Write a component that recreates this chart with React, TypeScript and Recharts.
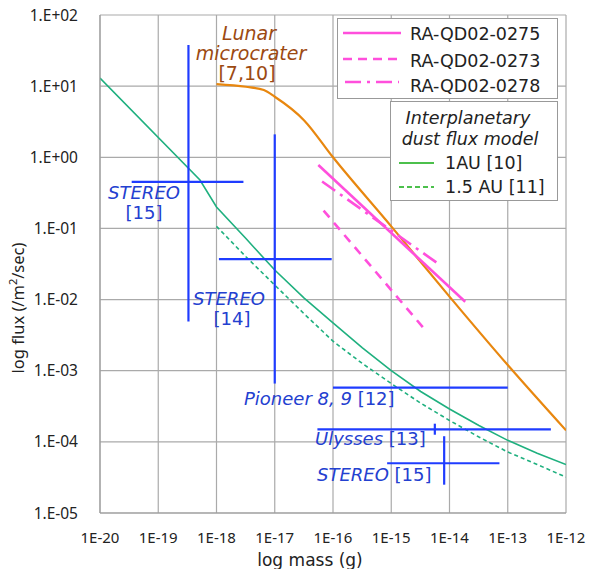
import { ComposedChart, Line, XAxis, YAxis, CartesianGrid } from "recharts";

// mass (g) ticks and flux ticks
const massTicks = [1e-20, 1e-19, 1e-18, 1e-17, 1e-16, 1e-15, 1e-14, 1e-13, 1e-12];
const massTickLabels = ["1E-20", "1E-19", "1E-18", "1E-17", "1E-16", "1E-15", "1E-14", "1E-13", "1E-12"];
const fluxTicks = [1e-5, 1e-4, 1e-3, 1e-2, 1e-1, 1, 10, 100];
const fluxTickLabels = ["1.E-05", "1.E-04", "1.E-03", "1.E-02", "1.E-01", "1.E+00", "1.E+01", "1.E+02"];

// interplanetary dust flux model, 1 AU [10]
const au1 = [
  { x: 1e-20, y: 13 },
  { x: 5.2e-19, y: 0.48 },
  { x: 1e-18, y: 0.2 },
  { x: 3.2e-18, y: 0.072 },
  { x: 1e-17, y: 0.026 },
  { x: 3.2e-17, y: 0.0105 },
  { x: 1e-16, y: 0.0047 },
  { x: 3.2e-16, y: 0.0021 },
  { x: 1e-15, y: 0.001 },
  { x: 3.2e-15, y: 5.1e-4 },
  { x: 1e-14, y: 2.9e-4 },
  { x: 3.2e-14, y: 1.7e-4 },
  { x: 1e-13, y: 1.05e-4 },
  { x: 3.2e-13, y: 6.9e-5 },
  { x: 1e-12, y: 4.8e-5 },
];

// 1.5 AU [11]
const au15 = [
  { x: 1e-18, y: 0.107 },
  { x: 3.2e-18, y: 0.04 },
  { x: 1e-17, y: 0.016 },
  { x: 3.2e-17, y: 0.0063 },
  { x: 1e-16, y: 0.0026 },
  { x: 3.2e-16, y: 0.00126 },
  { x: 1e-15, y: 6.6e-4 },
  { x: 3.2e-15, y: 3.5e-4 },
  { x: 1e-14, y: 2.0e-4 },
  { x: 3.2e-14, y: 1.17e-4 },
  { x: 1e-13, y: 7.2e-5 },
  { x: 3.2e-13, y: 4.8e-5 },
  { x: 1e-12, y: 3.2e-5 },
];

// lunar microcrater [7,10]
const lunar = [
  { x: 1e-18, y: 10.7 },
  { x: 3.2e-18, y: 9.8 },
  { x: 6.5e-18, y: 8.8 },
  { x: 1e-17, y: 7.1 },
  { x: 3.2e-17, y: 3.3 },
  { x: 1e-16, y: 1.0 },
  { x: 1e-15, y: 0.107 },
  { x: 1e-14, y: 0.011 },
  { x: 1e-13, y: 0.0012 },
  { x: 1e-12, y: 1.45e-4 },
];

// measured samples
const qd0275 = [
  { x: 5.6e-17, y: 0.78 },
  { x: 1.86e-14, y: 0.0093 },
];
const qd0273 = [
  { x: 6.9e-17, y: 0.178 },
  { x: 4.1e-15, y: 0.0035 },
];
const qd0278 = [
  { x: 6.5e-17, y: 0.457 },
  { x: 6.5e-15, y: 0.0316 },
];

// spacecraft ranges, each a segment [start, end]
const stereo15aH = [{ x: 3.5e-20, y: 0.45 }, { x: 2.9e-18, y: 0.45 }];
const stereo15aV = [{ x: 3.3e-19, y: 38 }, { x: 3.3e-19, y: 0.0049 }];
const stereo14H = [{ x: 1.1e-18, y: 0.037 }, { x: 9.5e-17, y: 0.037 }];
const stereo14V = [{ x: 1e-17, y: 2.1 }, { x: 1e-17, y: 6.6e-4 }];
const pioneerH = [{ x: 1e-16, y: 5.8e-4 }, { x: 1e-13, y: 5.8e-4 }];
const ulyssesH = [{ x: 5.4e-17, y: 1.5e-4 }, { x: 5.5e-13, y: 1.5e-4 }];
const ulyssesV = [{ x: 5.6e-15, y: 1.8e-4 }, { x: 5.6e-15, y: 1.26e-4 }];
const stereo15bH = [{ x: 8.5e-16, y: 5.0e-5 }, { x: 7.2e-14, y: 5.0e-5 }];
const stereo15bV = [{ x: 8.1e-15, y: 1.2e-4 }, { x: 8.1e-15, y: 2.5e-5 }];

const blueSegments = [stereo15aH, stereo15aV, stereo14H, stereo14V, pioneerH, ulyssesH, ulyssesV, stereo15bH, stereo15bV];

const GREEN = "#1fb07f";
const ORANGE = "#e8870f";
const PINK = "#ff4fdc";
const BLUE = "#1f3cff";
const LABEL_BLUE = "#2340d0";
const FONT = "'Noto Sans', 'DejaVu Sans', sans-serif";
const WIDE = "'DejaVu Sans', sans-serif";

export default function App() {
  return (
    <div style={{ position: "absolute", left: 0, top: 0, width: 589, height: 569, background: "#fff", fontFamily: FONT }}>
      <ComposedChart width={589} height={569} margin={{ top: 15, right: 23, bottom: 0, left: 0 }}>
        <CartesianGrid stroke="#aaaaaa" strokeWidth={1.2} />
        <XAxis
          type="number"
          dataKey="x"
          scale="log"
          domain={[1e-20, 1e-12]}
          ticks={massTicks}
          allowDataOverflow
          height={56}
          axisLine={{ stroke: "#999" }}
          tickLine={false}
          tickMargin={13}
          tick={{ fill: "#222", fontSize: 15, fontFamily: FONT }}
          tickFormatter={(v: number) => massTickLabels[massTicks.findIndex((t) => Math.abs(Math.log10(t) - Math.log10(v)) < 0.01)] ?? ""}
        />
        <YAxis
          type="number"
          dataKey="y"
          scale="log"
          domain={[1e-5, 100]}
          ticks={fluxTicks}
          allowDataOverflow
          width={100}
          axisLine={{ stroke: "#999" }}
          tickLine={false}
          tickMargin={16}
          tick={{ fill: "#222", fontSize: 15.5, fontFamily: FONT }}
          tickFormatter={(v: number) => fluxTickLabels[fluxTicks.findIndex((t) => Math.abs(Math.log10(t) - Math.log10(v)) < 0.01)] ?? ""}
        />
        <Line data={au1} dataKey="y" stroke={GREEN} strokeWidth={1.6} dot={false} isAnimationActive={false} />
        <Line data={au15} dataKey="y" stroke={GREEN} strokeWidth={1.6} strokeDasharray="4 3" dot={false} isAnimationActive={false} />
        <Line data={lunar} dataKey="y" type="monotone" stroke={ORANGE} strokeWidth={2.2} dot={false} isAnimationActive={false} />
        <Line data={qd0275} dataKey="y" stroke={PINK} strokeWidth={2.6} dot={false} isAnimationActive={false} />
        <Line data={qd0273} dataKey="y" stroke={PINK} strokeWidth={2.6} strokeDasharray="9 7" dot={false} isAnimationActive={false} />
        <Line data={qd0278} dataKey="y" stroke={PINK} strokeWidth={2.6} strokeDasharray="16 6 3 6" dot={false} isAnimationActive={false} />
        {blueSegments.map((seg, i) => (
          <Line key={i} data={seg} dataKey="y" stroke={BLUE} strokeWidth={2.2} dot={false} isAnimationActive={false} />
        ))}
      </ComposedChart>

      <svg width={589} height={569} style={{ position: "absolute", left: 0, top: 0, pointerEvents: "none" }}>
        <text x={20} y={308} transform="rotate(-90 20 308)" textAnchor="middle" dominantBaseline="middle" fontSize={16.5} fill="#222" fontFamily={FONT}>
          log flux (/m<tspan dy={-6} fontSize={11}>2</tspan><tspan dy={6}>/sec)</tspan>
        </text>
        <text x={310} y={566} textAnchor="middle" fontSize={17} fill="#222" fontFamily={WIDE}>log mass (g)</text>

        <g fontFamily={WIDE} fontSize={19} fill="#9c4a12" textAnchor="middle">
          <text x={249} y={40} fontStyle="italic">Lunar</text>
          <text x={251} y={60} fontStyle="italic">microcrater</text>
          <text x={247} y={80}>[7,10]</text>
        </g>

        <g fontFamily={WIDE} fontSize={18} fill={LABEL_BLUE}>
          <text x={144} y={199} textAnchor="middle" fontStyle="italic">STEREO</text>
          <text x={144} y={219} textAnchor="middle">[15]</text>
          <text x={229} y={305} textAnchor="middle" fontStyle="italic">STEREO</text>
          <text x={232} y={325} textAnchor="middle">[14]</text>
          <text x={244} y={405}><tspan fontStyle="italic">Pioneer 8, 9</tspan> [12]</text>
          <text x={315} y={445}><tspan fontStyle="italic">Ulysses</tspan> [13]</text>
          <text x={317} y={481}><tspan fontStyle="italic">STEREO</tspan> [15]</text>
        </g>

        {/* legend 1 */}
        <rect x={337.5} y={18.5} width={220} height={80} fill="#fff" stroke="#999" />
        <g fontFamily={WIDE} fontSize={17.5} fill="#222">
          <line x1={343} x2={401} y1={33} y2={33} stroke={PINK} strokeWidth={2.5} />
          <text x={410} y={40}>RA-QD02-0275</text>
          <line x1={343} x2={401} y1={59} y2={59} stroke={PINK} strokeWidth={2.5} strokeDasharray="9 6" />
          <text x={410} y={67}>RA-QD02-0273</text>
          <line x1={345} x2={399} y1={82} y2={82} stroke={PINK} strokeWidth={2.5} strokeDasharray="16 6 3 6" />
          <text x={410} y={92}>RA-QD02-0278</text>
        </g>

        {/* legend 2 */}
        <rect x={390.5} y={101.5} width={167} height={99} fill="#fff" stroke="#999" />
        <g fontFamily={WIDE} fontSize={17.5} fill="#222">
          <text x={468} y={124} textAnchor="middle" fontStyle="italic">Interplanetary</text>
          <text x={470} y={145} textAnchor="middle" fontStyle="italic">dust flux model</text>
          <line x1={399} x2={434} y1={163} y2={163} stroke="#4cc04c" strokeWidth={2} />
          <text x={445} y={169}>1AU [10]</text>
          <line x1={399} x2={434} y1={187} y2={187} stroke="#4cc04c" strokeWidth={2} strokeDasharray="5 3" />
          <text x={445} y={193}>1.5 AU [11]</text>
        </g>
      </svg>
    </div>
  );
}
